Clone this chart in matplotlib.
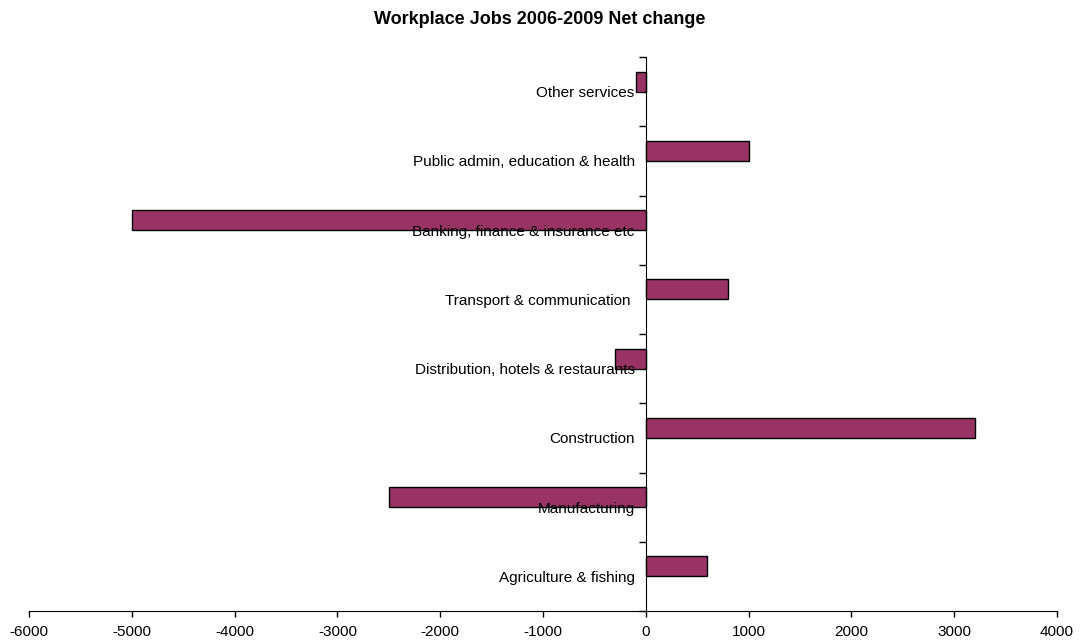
import matplotlib
matplotlib.use("Agg")
import matplotlib.pyplot as plt
import numpy as np

# sectors listed bottom to top
sectors = [
    "Agriculture & fishing",
    "Manufacturing",
    "Construction",
    "Distribution, hotels & restaurants",
    "Transport & communication ",
    "Banking, finance & insurance etc",
    "Public admin, education & health",
    "Other services",
]
net_change = [600, -2500, 3200, -300, 800, -5000, 1000, -100]
x_ticks = [-6000, -5000, -4000, -3000, -2000, -1000, 0, 1000, 2000, 3000, 4000]

plt.rcParams['font.family'] = ['Liberation Sans', 'DejaVu Sans']

fig = plt.figure(figsize=(10.8, 6.41), dpi=100)
ax = fig.add_axes([29 / 1080, 30 / 641, 1028 / 1080, 554 / 641])

pos = np.arange(len(sectors))
# bars sit in the upper half of each category band
ax.barh(pos, net_change, height=0.29, align='edge',
        color='#993366', edgecolor='black', linewidth=1.0)

ax.set_xlim(-6000, 4000)
ax.set_ylim(-0.5, len(sectors) - 0.5)

ax.set_xticks(x_ticks)
ax.set_xticklabels([str(v) for v in x_ticks])
ax.tick_params(axis='x', direction='out', length=4, width=1, pad=6, labelsize=11)

# category boundaries as ticks, names on the band centres
ax.set_yticks(np.arange(len(sectors) + 1) - 0.5)
ax.set_yticklabels([])
ax.set_yticks(pos, minor=True)
ax.set_yticklabels(sectors, minor=True)
ax.tick_params(axis='y', which='major', direction='out', length=5, width=1)
ax.tick_params(axis='y', which='minor', length=0, pad=8, labelsize=11)

ax.spines['left'].set_position(('data', 0))
ax.spines['top'].set_visible(False)
ax.spines['right'].set_visible(False)

fig.text(0.5, 1 - 19 / 641, "Workplace Jobs 2006-2009 Net change",
         ha='center', va='center', fontsize=13, fontweight='bold')

fig.savefig("out.png", dpi=100)
